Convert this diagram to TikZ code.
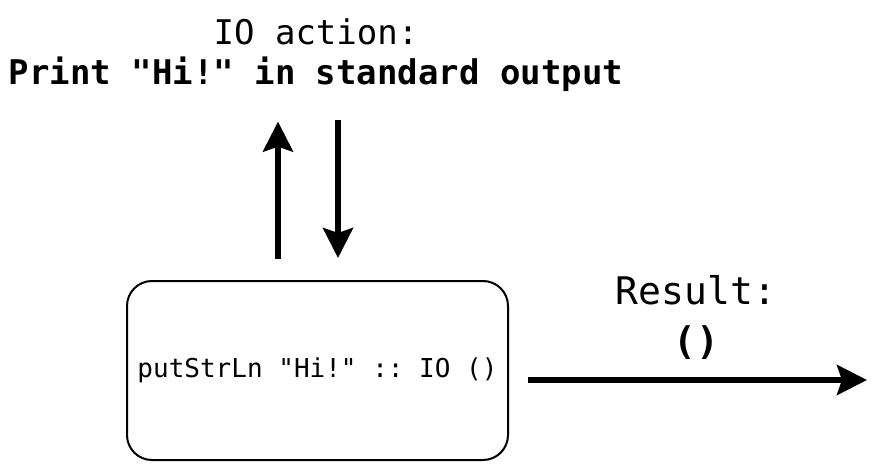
\documentclass[tikz,border=0pt]{standalone}
\usepackage{fontspec}
\setmonofont{DejaVu Sans Mono}
\usetikzlibrary{arrows.meta,positioning,calc}

\begin{document}
\begin{tikzpicture}[x=1pt, y=-1pt, >={Stealth[length=30pt, width=30pt, inset=5pt]},
  flow/.style={->, line width=5.5pt},
  txt/.style 2 args={font=\ttfamily\fontsize{#1}{#2}\selectfont, inner sep=0pt, align=center}]
\useasboundingbox (0,0) rectangle (877,470);
\node[txt={34}{40}] (title) at (316,55) {IO action:\\\textbf{Print "Hi!" in standard output}};
\node[txt={26}{31}, draw, line width=2pt, rounded corners=25pt, minimum width=381pt, minimum height=179pt] (act) at (317.5,370.5) {putStrLn "Hi!" :: IO ()};
\node[txt={38}{50}] (res) at (696,317) {Result:\\\textbf{()}};
\coordinate (end) at (867,380);
\draw[flow, shorten <=21pt, shorten >=30pt] ([xshift=-39.5pt]act.north) -- ([xshift=-39.5pt]act.north |- title.south);
\draw[flow, shorten <=28pt, shorten >=22pt] ([xshift=20.5pt]act.north |- title.south) -- ([xshift=20.5pt]act.north);
\draw[flow, shorten <=19pt] ([yshift=-9.5pt]act.east) -- (end);
\end{tikzpicture}
\end{document}
